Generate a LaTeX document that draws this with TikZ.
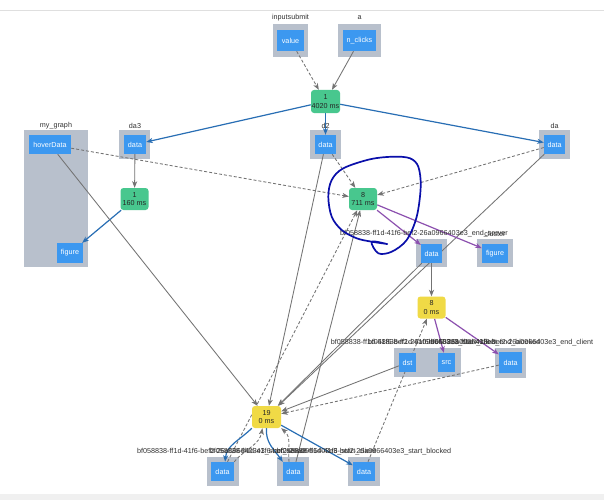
\documentclass[tikz,border=0pt]{standalone}
\usepackage{fontspec}
\setmainfont{Liberation Sans}
\usetikzlibrary{arrows.meta}
\pgfdeclarelayer{bg}
\pgfdeclarelayer{grp}
\pgfdeclarelayer{edg}
\pgfdeclarelayer{front}
\pgfsetlayers{bg,grp,edg,main,front}
\definecolor{nodeblue}{RGB}{60,152,240}
\definecolor{grpgray}{RGB}{184,192,204}
\definecolor{cbgreen}{RGB}{72,199,142}
\definecolor{cbyellow}{RGB}{240,218,70}
\definecolor{edgeblue}{RGB}{40,110,180}
\definecolor{edgepurple}{RGB}{140,80,175}
\definecolor{edgegray}{RGB}{115,115,115}
\definecolor{inkblue}{RGB}{10,15,170}
\definecolor{labelc}{RGB}{50,50,50}
\begin{document}
\begin{tikzpicture}[x=1pt,y=-1pt,
  txt/.style={font=\fontsize{7.2}{8.2}\selectfont},
  bnode/.style={txt,fill=nodeblue,text=white,inner sep=0pt,minimum height=19pt},
  cbnode/.style={txt,rounded corners=3pt,inner sep=0pt,minimum width=28pt,minimum height=22pt,align=center,text=black!85},
  gnode/.style={cbnode,fill=cbgreen},
  ynode/.style={cbnode,fill=cbyellow},
  lbl/.style={txt,text=labelc,inner sep=0pt},
  grpbox/.style={fill=grpgray},
  tip/.style={-{Stealth[length=6.5pt,width=5pt,inset=1.8pt]}},
  ge/.style={tip,draw=edgegray,line width=0.85pt},
  be/.style={tip,draw=edgeblue,line width=1.2pt},
  pe/.style={tip,draw=edgepurple,line width=1.2pt},
  dsh/.style={dash pattern=on 3pt off 2pt},
  ink/.style={draw=inkblue,line width=1.7pt,line cap=round,line join=round}]
\useasboundingbox (0,0) rectangle (604,500);
\begin{pgfonlayer}{bg}
\fill[white] (0,0) rectangle (604,500);
\draw[gray!25,line width=0.8pt] (0,10.5) -- (604,10.5);
\fill[gray!12] (0,494) rectangle (604,500);
\end{pgfonlayer}

% groups
\begin{pgfonlayer}{grp}
\fill[grpbox] (273,24) rectangle (308,57);
\fill[grpbox] (338,24) rectangle (381,57);
\fill[grpbox] (24,130) rectangle (88,267);
\fill[grpbox] (119,130) rectangle (150,159);
\fill[grpbox] (310,130) rectangle (341,159);
\fill[grpbox] (539,130) rectangle (570,159);
\fill[grpbox] (416,239) rectangle (447,267);
\fill[grpbox] (477,239) rectangle (513,267);
\fill[grpbox] (394,348) rectangle (461,377);
\fill[grpbox] (495,348) rectangle (526,378);
\fill[grpbox] (207,457) rectangle (239,486);
\fill[grpbox] (277,457) rectangle (309,486);
\fill[grpbox] (348,457) rectangle (380,486);
\end{pgfonlayer}

% group labels
\node[lbl] (l1) at (290.5,18) {inputsubmit};
\node[lbl] (l2) at (359.5,18) {a};
\node[lbl] (l3) at (56,126) {my\_graph};
\node[lbl] (l4) at (135,126) {da3};
\node[lbl] (l5) at (325.5,126) {d2};
\node[lbl] (l6) at (554.5,126) {da};
\node[lbl] (l7) at (424,234) {bf058838-ff1d-41f6-bef2-26a0966403e3\_end\_server};
\node[lbl] (l8) at (495,234) {cluster};
\node[lbl] (l9) at (414,343) {bf058838-ff1d-41f6-bef2-26a0966403e3\_start\_client};
\node[lbl] (l10) at (454,343) {bf058838-ff1d-41f6-bef2-26a0966403e3\_end\_blocked};
\node[lbl] (l11) at (511,343) {bf058838-ff1d-41f6-bef2-26a0966403e3\_end\_client};
\node[lbl] (l12) at (222,452) {bf058838-ff1d-41f6-bef2-26a0966403e3\_start\_server};
\node[lbl] (l13) at (293,452) {bf058838-ff1d-41f6-bef2-26a0966403e3\_start\_client};
\node[lbl] (l14) at (364,452) {bf058838-ff1d-41f6-bef2-26a0966403e3\_start\_blocked};

% property nodes
\node[bnode,minimum width=27pt,minimum height=21pt] (value) at (290.5,40.5) {value};
\node[bnode,minimum width=33pt,minimum height=21pt] (nclicks) at (359.5,40.5) {n\_clicks};
\node[bnode,minimum width=42pt] (hover) at (50,144.5) {hoverData};
\node[bnode,minimum width=26pt,minimum height=20pt] (fig1) at (70,253) {figure};
\node[bnode,minimum width=22pt] (da3d) at (135,144.5) {data};
\node[bnode,minimum width=21pt] (d2d) at (325.5,144.5) {data};
\node[bnode,minimum width=21pt] (dad) at (554.5,144.5) {data};
\node[bnode,minimum width=21pt] (esd) at (431.5,253.5) {data};
\node[bnode,minimum width=26pt] (esf) at (495,253.5) {figure};
\node[bnode,minimum width=17pt] (dst) at (407.5,362.5) {dst};
\node[bnode,minimum width=17pt] (src) at (446.5,362.5) {src};
\node[bnode,minimum width=23pt,minimum height=21pt] (ecd) at (510.5,362.5) {data};
\node[bnode,minimum width=23pt] (b1) at (222.5,471.5) {data};
\node[bnode,minimum width=21pt] (b2) at (293.5,471.5) {data};
\node[bnode,minimum width=22pt] (b3) at (364,471.5) {data};

% callback nodes
\node[gnode,minimum width=29pt,minimum height=23pt] (n1) at (325.5,101.5) {1\\4020 ms};
\node[gnode] (n160) at (134.5,199) {1\\160 ms};
\node[gnode] (n8) at (363,199) {8\\711 ms};
\node[ynode] (n80) at (431.5,307.5) {8\\0 ms};
\node[ynode,minimum width=29pt] (n19) at (266.5,417) {19\\0 ms};

% edges
\begin{pgfonlayer}{edg}
\draw[ge,dsh] (value) -- (n1);
\draw[ge] (nclicks) -- (n1);
\draw[be] (n1) -- (da3d);
\draw[be] (n1) -- (d2d);
\draw[be] (n1) -- (dad);
\draw[ge] (da3d) -- (n160);
\draw[be] (n160) -- (fig1);
\draw[ge,dsh] (hover) -- (n8);
\draw[ge] (hover) -- (n19);
\draw[ge,dsh] (d2d) -- (n8);
\draw[ge] (d2d) -- (n19);
\draw[ge,dsh] (dad) -- (n8);
\draw[ge] (dad) -- (n19);
\draw[pe] (n8) -- (esd);
\draw[pe] (n8) -- (esf);
\draw[ge] (esd) -- (n80);
\draw[ge] (esd) -- (n19);
\draw[pe] (n80) -- (src);
\draw[pe] (n80) -- (ecd);
\draw[ge] (dst) -- (n19);
\draw[ge,dsh] (ecd) -- (n19);
\draw[ge,dsh] (b3) -- (n80);
\draw[ge,dsh] (b1) -- (n8);
\draw[ge] (b2) -- (n8);
\draw[be] (n19.south west) to[out=225,in=85] (b1.75);
\draw[ge,dsh] (b1.north east) to[out=50,in=-100] (n19.250);
\draw[be] (n19.south) to[out=-95,in=125] (b2.north west);
\draw[ge,dsh] (b2.115) to[out=95,in=-40] (n19.south east);
\draw[be] (n19) -- (b3);
\end{pgfonlayer}

% hand-drawn annotation
\begin{pgfonlayer}{front}
\draw[ink] plot[smooth,tension=0.55] coordinates {(386.7,244) (371.7,241.7) (378.3,253.3) (391.7,251.7) (406.7,240) (416.7,216.7) (420.7,186.7) (418.3,166.7) (410,158.3) (393.3,156.7) (370,159.3) (343.3,168.3) (331.7,180) (328.3,196.7) (331.7,216.7) (341.7,230) (356.7,238.3) (371.7,241.7) (387.3,244)};
\end{pgfonlayer}
\end{tikzpicture}
\end{document}
